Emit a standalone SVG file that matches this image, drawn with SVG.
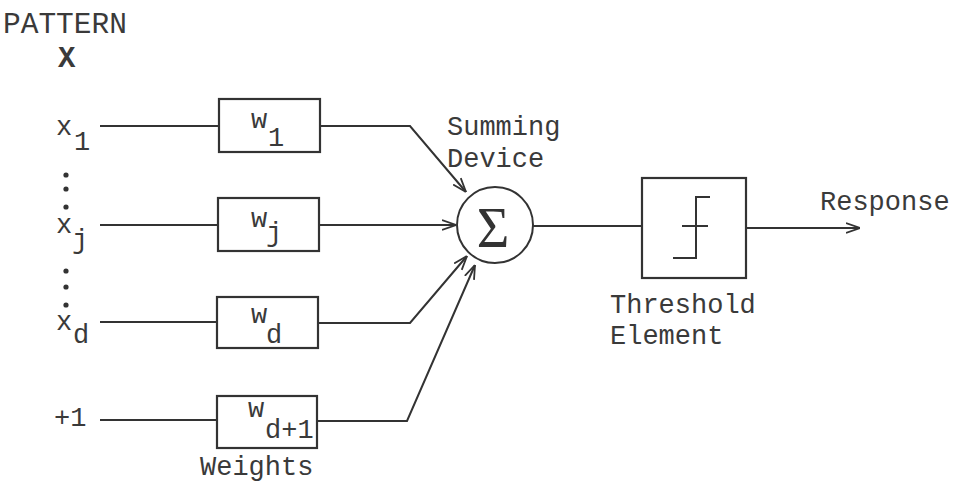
<svg xmlns="http://www.w3.org/2000/svg" width="955" height="488" viewBox="0 0 955 488">
<defs>
<style>
.t{font-family:"Liberation Mono","Courier New",monospace;font-size:27px;fill:#3a3a3a}
.ln{fill:none;stroke:#333;stroke-width:2}
.box{fill:none;stroke:#333;stroke-width:2.2}
</style>
<marker id="ah" viewBox="0 0 14 12" refX="14" refY="6" markerWidth="14" markerHeight="12" markerUnits="userSpaceOnUse" orient="auto">
<path d="M0,1 L14,6 L0,11" fill="none" stroke="#333" stroke-width="1.8"/>
</marker>
</defs>
<rect width="955" height="488" fill="#fff"/>

<g id="pattern">
<text class="t" x="3" y="33" style="font-size:29.5px">PATTERN</text>
<text class="t" x="58" y="67" style="font-size:29px;font-weight:bold">X</text>
</g>

<g id="inputs">
<text class="t" x="56" y="135">x</text><text class="t" x="74" y="150">1</text>
<circle cx="66" cy="175" r="2.6" fill="#333"/><circle cx="66" cy="189" r="2.6" fill="#333"/><circle cx="66" cy="207" r="2.6" fill="#333"/>
<text class="t" x="56" y="233">x</text><text class="t" x="72" y="248">j</text>
<circle cx="66" cy="271" r="2.6" fill="#333"/><circle cx="66" cy="287" r="2.6" fill="#333"/><circle cx="66" cy="305" r="2.6" fill="#333"/>
<text class="t" x="56" y="330">x</text><text class="t" x="73" y="343">d</text>
<text class="t" x="54" y="426">+1</text>
</g>

<g id="w1">
<rect class="box" x="219" y="99" width="101" height="53"/>
<text class="t" x="251" y="128">w</text><text class="t" x="268" y="146">1</text>
</g>
<g id="wj">
<rect class="box" x="218" y="198" width="101" height="53"/>
<text class="t" x="251" y="227">w</text><text class="t" x="266" y="241">j</text>
</g>
<g id="wd">
<rect class="box" x="217" y="297" width="101" height="51"/>
<text class="t" x="251" y="323">w</text><text class="t" x="266" y="343">d</text>
</g>
<g id="wd1">
<rect class="box" x="217" y="396" width="100" height="52"/>
<text class="t" x="248" y="417">w</text><text class="t" x="265" y="438">d+1</text>
</g>
<g id="weights-label">
<text class="t" x="200" y="475">Weights</text>
</g>

<g id="sum">
<circle cx="495" cy="225" r="38" fill="none" stroke="#333" stroke-width="2"/>
<text x="493" y="247" text-anchor="middle" style="font-family:'Liberation Serif','Times New Roman',serif;font-size:56px;fill:#333">Σ</text>
<text class="t" x="447" y="135">Summing</text>
<text class="t" x="447" y="167">Device</text>
</g>

<g id="threshold">
<rect class="box" x="642" y="178" width="104" height="100"/>
<path class="ln" d="M710,197 H696 V258 H673 M682,226 H708" stroke-width="1.8"/>
<text class="t" x="610" y="313">Threshold</text>
<text class="t" x="610" y="344">Element</text>
</g>

<g id="response">
<text class="t" x="820" y="210">Response</text>
</g>

<g id="connectors">
<path class="ln" d="M100,126 H219"/>
<path class="ln" d="M100,225 H218"/>
<path class="ln" d="M100,322 H217"/>
<path class="ln" d="M100,420 H217"/>
<path class="ln" d="M320,126 H410 L466,192" marker-end="url(#ah)"/>
<path class="ln" d="M319,225 H456" marker-end="url(#ah)"/>
<path class="ln" d="M318,323 H410 L467,256" marker-end="url(#ah)"/>
<path class="ln" d="M317,421 H407 L475,265" marker-end="url(#ah)"/>
<path class="ln" d="M533,226 H642"/>
<path class="ln" d="M746,228 H860" marker-end="url(#ah)"/>
</g>
</svg>
